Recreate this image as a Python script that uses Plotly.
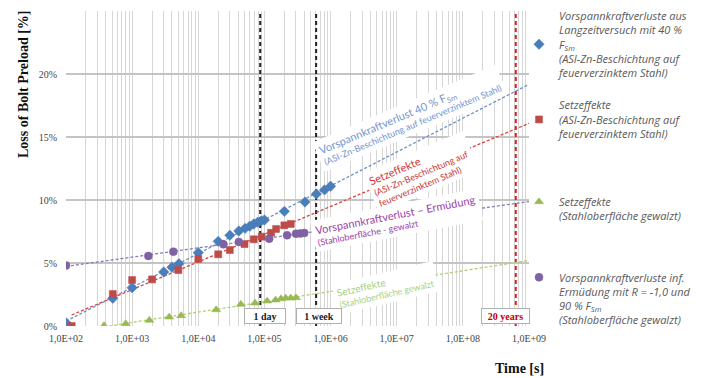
import numpy as np
import plotly.graph_objects as go

# ---------------- data ----------------
blue_t = [1e2, 5.1e2, 1e3, 3e3, 4e3, 5.1e3, 1e4, 2e4, 3e4, 4.1e4, 5.1e4, 6e4, 6.9e4,
          7.9e4, 8.9e4, 1e5, 2e5, 4.1e5, 6.1e5, 8.1e5, 1e6]
blue_v = [0.26, 2.2, 3.04, 4.29, 4.66, 4.95, 5.82, 6.72, 7.2, 7.54, 7.75, 7.92, 8.1,
          8.23, 8.33, 8.41, 9.1, 9.84, 10.48, 10.8, 11.09]

red_t = [1.22e2, 5.1e2, 1e3, 2e3, 5e3, 1e4, 2e4, 3e4, 5e4, 6.9e4, 9.1e4, 1.26e5,
         1.5e5, 2e5, 2.5e5]
red_v = [0.0, 2.54, 3.65, 3.7, 4.44, 5.32, 5.69, 6.03, 6.5, 6.88, 7.09, 7.4,
         7.7, 7.99, 8.1]

green_t = [3.76e2, 8e2, 1.82e3, 3.63e3, 5.5e3, 1.86e4, 4.4e4, 7.2e4, 1.1e5, 1.47e5,
           1.78e5, 2.1e5, 2.5e5, 3e5]
green_v = [0.03, 0.18, 0.45, 0.71, 0.82, 1.29, 1.72, 1.82, 1.98, 2.06,
           2.17, 2.22, 2.22, 2.25]

purple_t = [1e2, 1.76e3, 4.2e3, 2.4e4, 4.1e4, 1.18e5, 2.2e5, 3e5, 3.5e5, 4e5]
purple_v = [4.8, 5.56, 5.9, 6.48, 6.67, 6.93, 7.2, 7.33, 7.35, 7.38]

event_t = [86400, 604800, 20 * 365 * 86400]
event_labels = ["1 day", "1 week", "20 years"]

decades = [1e2, 1e3, 1e4, 1e5, 1e6, 1e7, 1e8, 1e9]
decade_labels = ["1,0E+02", "1,0E+03", "1,0E+04", "1,0E+05", "1,0E+06",
                 "1,0E+07", "1,0E+08", "1,0E+09"]
y_ticks = [0, 5, 10, 15, 20, 25]

x_max = 1e9

legend_names = [
    "Vorspannkraftverluste aus<br>Langzeitversuch mit 40 %<br>F<sub>Sm</sub><br>(ASI-Zn-Beschichtung auf<br>feuerverzinktem Stahl)",
    "Setzeffekte<br>(ASI-Zn-Beschichtung auf<br>feuerverzinktem Stahl)",
    "Setzeffekte<br>(Stahloberfläche gewalzt)",
    "Vorspannkraftverluste inf.<br>Ermüdung mit R = -1,0 und<br>90 % F<sub>Sm</sub><br>(Stahloberfläche gewalzt)",
]

# ---------------- styles ----------------
BLUE, RED, GREEN, PURPLE = "#4a7ebb", "#be4b48", "#98b954", "#7f62a4"
SERIF = "Liberation Serif, Times New Roman, serif"
SANS = "Lato, Open Sans, sans-serif"
LEG = "Open Sans, Noto Sans, sans-serif"

# the page body adds an 8px offset; figure is sized to fill the window
W, H = 695, 370
# plot area on screen: x 66..529, y 11..326
L, R, T, B = 58, 174, 3, 52
SX0, SX1, SY0, SY1 = 66.0, 529.0, 11.0, 326.0

fig = go.Figure()

minor_vals = [d * m for d in decades[:-1] for m in range(2, 10)]

# event lines
for t, col in zip(event_t, ["#222222", "#222222", "#d42020"]):
    fig.add_trace(go.Scatter(x=[t, t], y=[y_ticks[0], y_ticks[-1]], mode="lines",
                             line=dict(color=col, width=2, dash="4px,3px"),
                             showlegend=False, hoverinfo="skip"))

series = [
    (blue_t, blue_v, BLUE, "diamond", 8, "#6d8fc9"),
    (red_t, red_v, RED, "square", 7, "#d64545"),
    (green_t, green_v, GREEN, "triangle-up", 8, "#b3cf6e"),
    (purple_t, purple_v, PURPLE, "circle", 8, "#8a7db8"),
]

# logarithmic trend lines (fit in log space)
for t, v, col, sym, sz, tcol in series:
    k, b = np.polyfit(np.log10(t), v, 1)
    xs = np.array([min(t), x_max])
    ys = k * np.log10(xs) + b
    fig.add_trace(go.Scatter(x=xs, y=ys, mode="lines",
                             line=dict(color=tcol, width=1.3, dash="3px,2px"),
                             showlegend=False, hoverinfo="skip"))

for i, (t, v, col, sym, sz, tcol) in enumerate(series):
    fig.add_trace(go.Scatter(x=t, y=v, mode="markers", name=legend_names[i],
                             marker=dict(symbol=sym, size=sz, color=col,
                                         line=dict(width=0.5, color=col)),
                             legend="legend" if i < 2 else "legend2",
                             legendgroup="g%d" % i))


def sx(p):
    return (p - SX0) / (SX1 - SX0)


def sy(p):
    return (SY1 - p) / (SY1 - SY0)


annotations = []
labels = [
    ("<span style='font-size:11px'>Vorspannkraftverlust 40 % F<sub>Sm</sub></span><br>(ASI-Zn-Beschichtung auf feuerverzinktem Stahl)",
     "#7296cf", 410, 118, -23),
    ("<span style='font-size:11px'>Setzeffekte</span><br>(ASI-Zn-Beschichtung auf<br>feuerverzinktem Stahl)",
     "#cc3838", 421, 172, -23),
    ("<span style='font-size:11px'>Vorspannkraftverlust – Ermüdung</span><br>(Stahloberfläche - gewalzt",
     "#9a3ea8", 396, 220, -11),
    ("<span style='font-size:10px'>Setzeffekte</span><br>(Stahloberfläche gewalzt",
     "#a6d07e", 385, 288, -13),
]
for txt, col, cx, cy, ang in labels:
    annotations.append(dict(text=txt, x=sx(cx), y=sy(cy), xref="paper", yref="paper",
                            showarrow=False, textangle=ang, align="left",
                            xanchor="center", yanchor="middle",
                            font=dict(family=SANS, size=9, color=col),
                            bgcolor="white", borderpad=3))

for t, lab, col, sh, w in zip(event_t, event_labels, ["#222", "#222", "#c00000"],
                              [5, 3, -10], [38, 42, 45]):
    annotations.append(dict(text="<b>%s</b>" % lab, x=np.log10(t), y=sy(316),
                            xref="x", yref="paper", showarrow=False, xshift=sh,
                            yanchor="middle", width=w, height=12,
                            font=dict(family=SERIF, size=10, color=col),
                            bgcolor="white", bordercolor="#b0b0b0", borderwidth=1,
                            borderpad=1))

annotations.append(dict(text="<b>Time [s]</b>", x=sx(519), y=sy(368),
                        xref="paper", yref="paper", showarrow=False,
                        xanchor="center", yanchor="middle",
                        font=dict(family=SERIF, size=14, color="#111")))
annotations.append(dict(text="<b>Loss of Bolt Preload [%]</b>", x=sx(24), y=sy(84),
                        xref="paper", yref="paper", showarrow=False, textangle=-90,
                        xanchor="center", yanchor="middle",
                        font=dict(family=SERIF, size=14, color="#111")))

legend_font = dict(family=LEG, size=11, color="#595959", style="italic")
fig.update_layout(
    width=W, height=H,
    margin=dict(l=L, r=R, t=T, b=B, autoexpand=False),
    paper_bgcolor="white", plot_bgcolor="white",
    annotations=annotations,
    legend=dict(x=sx(519), y=sy(2), xref="paper", yref="paper",
                xanchor="left", yanchor="top", valign="middle",
                font=legend_font, tracegroupgap=15,
                bgcolor="rgba(0,0,0,0)", traceorder="grouped"),
    legend2=dict(x=sx(519), y=sy(188), xref="paper", yref="paper",
                 xanchor="left", yanchor="top", valign="top",
                 font=legend_font, tracegroupgap=44,
                 bgcolor="rgba(0,0,0,0)", traceorder="grouped"),
    xaxis=dict(type="log", range=[np.log10(decades[0]), np.log10(decades[-1])],
               tickvals=decades, ticktext=decade_labels, showgrid=True,
               gridcolor="#d6d6d6", gridwidth=1, zeroline=False, showline=False,
               ticks="", ticklabelstandoff=5, automargin=False,
               minor=dict(tickvals=minor_vals, showgrid=True, gridcolor="#d6d6d6",
                          gridwidth=1, ticks=""),
               tickfont=dict(family=SERIF, size=10, color="#444")),
    yaxis=dict(range=[y_ticks[0], y_ticks[-1]], tickvals=y_ticks,
               ticktext=["%d%%" % v for v in y_ticks], showgrid=True,
               gridcolor="#c4c4c4", gridwidth=1.5, zeroline=False, showline=False,
               ticks="", ticklabelstandoff=8, automargin=False,
               tickfont=dict(family=SERIF, size=10, color="#444")),
)

fig.write_html("out.html")
